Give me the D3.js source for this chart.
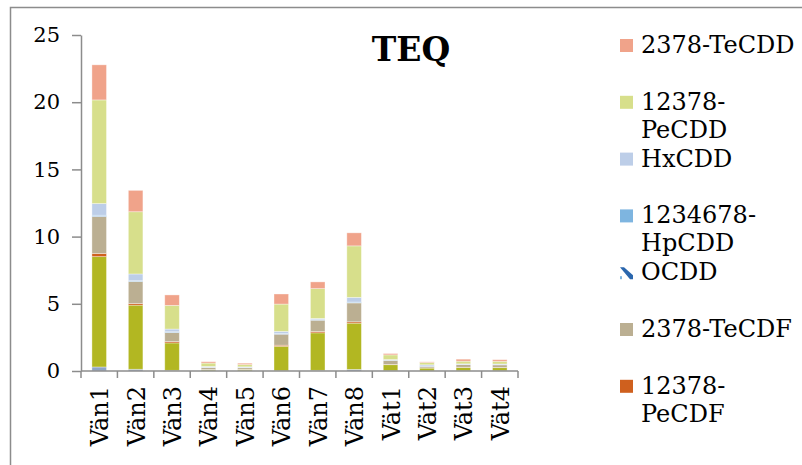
<!DOCTYPE html>
<html>
<head>
<meta charset="utf-8">
<script src="https://cdn.jsdelivr.net/npm/d3@7"></script>
<style>
  body { margin: 0; background: #fff; }
  text { font-family: "DejaVu Serif", Georgia, serif; fill: #000; }
</style>
</head>
<body>
<div id="chart"></div>
<script>
// TEQ stacked columns per site

var categories = ["Vän1", "Vän2", "Vän3", "Vän4", "Vän5", "Vän6", "Vän7", "Vän8", "Vät1", "Vät2", "Vät3", "Vät4"];

// series from bottom of the stack to the top
var seriesNames = ["HxCDF", "23478-PeCDF", "12378-PeCDF", "2378-TeCDF", "OCDD", "1234678-HpCDD", "HxCDD", "12378-PeCDD", "2378-TeCDD"];
var hxcdf      = [0.30, 0.13, 0.05, 0.02, 0.02, 0.02, 0.05, 0.12, 0.02, 0.01, 0.02, 0.02];
var pecdf23478 = [8.21, 4.77, 2.04, 0.08, 0.10, 1.82, 2.79, 3.44, 0.45, 0.21, 0.25, 0.23];
var pecdf12378 = [0.24, 0.12, 0.10, 0.01, 0.01, 0.08, 0.10, 0.10, 0.02, 0.01, 0.01, 0.01];
var tecdf      = [2.74, 1.64, 0.67, 0.15, 0.12, 0.82, 0.84, 1.41, 0.30, 0.12, 0.20, 0.20];
var ocdd       = [0.02, 0.01, 0.01, 0.01, 0.01, 0.01, 0.01, 0.01, 0.01, 0.01, 0.01, 0.01];
var hpcdd      = [0.08, 0.05, 0.05, 0.01, 0.01, 0.05, 0.03, 0.05, 0.01, 0.01, 0.01, 0.01];
var hxcdd      = [0.87, 0.50, 0.20, 0.06, 0.04, 0.15, 0.09, 0.35, 0.04, 0.09, 0.03, 0.04];
var pecdd      = [7.71, 4.63, 1.76, 0.25, 0.17, 2.03, 2.22, 3.83, 0.35, 0.17, 0.20, 0.20];
var tecdd      = [2.61, 1.59, 0.78, 0.10, 0.10, 0.75, 0.50, 0.97, 0.10, 0.05, 0.15, 0.12];
var seriesValues = [hxcdf, pecdf23478, pecdf12378, tecdf, ocdd, hpcdd, hxcdd, pecdd, tecdd];

var yTicks = [0, 5, 10, 15, 20, 25];
var legendShown = 7; // the legend box only has room for the first 7 entries

var colors = ["#8fa5c6", "#b2b722", "#cf601e", "#bbaf92", "#2a66ad", "#7eb5e0", "#bdcee8", "#d7df8b", "#f0a38a"];

var width = 802, height = 465;

var svg = d3.select("#chart").append("svg")
    .attr("width", width)
    .attr("height", height);

// outer chart border (runs off the right and bottom edges)
svg.append("rect")
    .attr("x", 10.5).attr("y", 7.5)
    .attr("width", 820).attr("height", 480)
    .attr("fill", "none")
    .attr("stroke", "#8c8c8c")
    .attr("stroke-width", 1.5);

var x = d3.scaleBand()
    .domain(categories)
    .range([81, 518])
    .paddingInner(0.6)
    .paddingOuter(0.3);

var y = d3.scaleLinear()
    .domain([0, 25])
    .range([371, 35]);

// build rows for d3.stack
var rows = categories.map(function(c, i) {
    var row = {cat: c};
    seriesNames.forEach(function(s, j) { row[s] = seriesValues[j][i]; });
    return row;
});

var stacked = d3.stack().keys(seriesNames)(rows);

var layers = svg.append("g").selectAll("g")
    .data(stacked)
    .enter().append("g")
    .attr("fill", function(d, i) { return colors[i]; });

layers.selectAll("rect")
    .data(function(d) { return d; })
    .enter().append("rect")
    .attr("x", function(d) { return x(d.data.cat); })
    .attr("y", function(d) { return y(d[1]); })
    .attr("width", x.bandwidth())
    .attr("height", function(d) { return Math.max(0, y(d[0]) - y(d[1])); })
    .attr("stroke", "#fff")
    .attr("stroke-opacity", 0.45)
    .attr("stroke-width", 0.8);

// y axis
var yAxis = svg.append("g")
    .attr("transform", "translate(81,0)")
    .call(d3.axisLeft(y).tickValues(yTicks).tickSize(9).tickSizeOuter(0).tickPadding(12));
yAxis.selectAll("path, line").attr("stroke", "#8c8c8c").attr("stroke-width", 1.5);
yAxis.selectAll("text")
    .style("font-family", "'DejaVu Serif', Georgia, serif")
    .style("font-size", "21px")
    .attr("fill", "#000");

// x axis: line with ticks on the category boundaries
var xAxis = svg.append("g");
xAxis.append("line")
    .attr("x1", x.range()[0]).attr("x2", x.range()[1])
    .attr("y1", y(0)).attr("y2", y(0))
    .attr("stroke", "#8c8c8c").attr("stroke-width", 1.5);
xAxis.selectAll(".xtick")
    .data(d3.range(categories.length + 1))
    .enter().append("line")
    .attr("class", "xtick")
    .attr("x1", function(k) { return x.range()[0] + k * x.step(); })
    .attr("x2", function(k) { return x.range()[0] + k * x.step(); })
    .attr("y1", y(0)).attr("y2", y(0) + 7)
    .attr("stroke", "#8c8c8c").attr("stroke-width", 1.5);

xAxis.selectAll(".xlabel")
    .data(categories)
    .enter().append("text")
    .attr("class", "xlabel")
    .attr("transform", function(d) {
        return "translate(" + (x(d) + x.bandwidth() / 2 + 9) + "," + (y(0) + 15) + ") rotate(-90)";
    })
    .attr("text-anchor", "end")
    .style("font-size", "24px")
    .text(function(d) { return d; });

// title
svg.append("text")
    .attr("x", 411).attr("y", 61)
    .attr("text-anchor", "middle")
    .style("font-size", "33px")
    .style("font-weight", "bold")
    .text("TEQ");

// legend, listed top of stack first
var legendItems = d3.range(seriesNames.length).reverse().slice(0, legendShown);

var legend = svg.append("g").selectAll("g")
    .data(legendItems)
    .enter().append("g")
    .attr("transform", function(d, i) { return "translate(620," + (39 + i * 56.8) + ")"; });

legend.each(function(j) {
    var g = d3.select(this);
    if (seriesNames[j] == "OCDD") {
        g.append("path")
            .attr("d", "M0,1 L4,1 L13,9 L13,13 L10,13 Z")
            .attr("fill", colors[j]);
        g.append("rect").attr("x", 0).attr("y", 10).attr("width", 2).attr("height", 3).attr("fill", "#7eb5e0");
    }
    else {
        g.append("rect")
            .attr("width", 13).attr("height", 13)
            .attr("fill", colors[j]);
    }
    var t = g.append("text")
        .attr("x", 21).attr("y", 14)
        .style("font-size", "24px")
        .text(seriesNames[j]);
    // wrap after the hyphen when the label is too wide
    if (t.node().getComputedTextLength() > 165) {
        var parts = seriesNames[j].split("-");
        t.text(null);
        t.append("tspan").attr("x", 21).attr("y", 14).text(parts[0] + "-");
        t.append("tspan").attr("x", 21).attr("y", 42).text(parts.slice(1).join("-"));
    }
});
</script>
</body>
</html>
